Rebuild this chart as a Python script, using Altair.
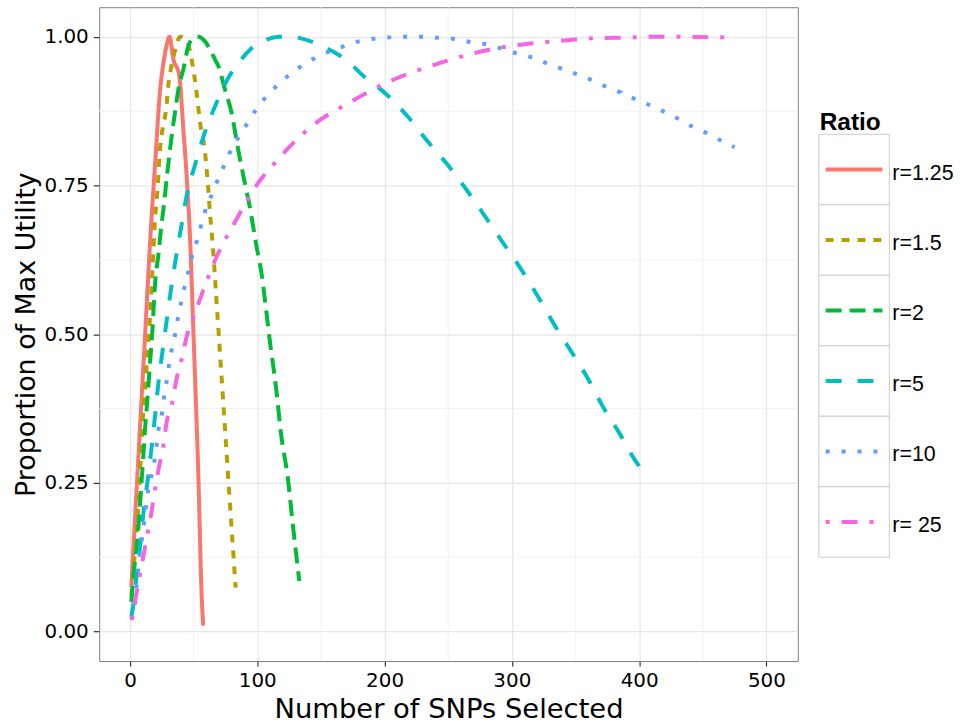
import altair as alt
import pandas as pd

# Series names, colours and line dash patterns
ratios = ["r=1.25", "r=1.5", "r=2", "r=5", "r=10", "r= 25"]
colors = ["#F8766D", "#B79F00", "#00BA38", "#00BFC4", "#619CFF", "#F564E3"]
dashes = [[1, 0], [8, 8], [16, 8], [16, 16], [4, 12], [4, 12, 16, 12]]

# Number of SNPs selected vs proportion of the maximum utility, per ratio
snps_r125 = [1, 4.2, 8.1, 12, 16.7, 19.8, 23.7, 26.3, 28.7, 31, 34.1, 38.5, 41.9, 44.5,
             47.1, 49.7, 52.3, 53.6, 56.3, 57.5]
util_r125 = [0.075, 0.2, 0.353, 0.505, 0.688, 0.789, 0.912, 0.956, 0.985, 1.0, 0.962, 0.937,
             0.845, 0.765, 0.665, 0.51, 0.353, 0.27, 0.06, 0.01]

snps_r15 = [1, 3.5, 6.8, 9.9, 12.5, 15, 17.5, 19.5, 21.5, 23.7, 26, 28.4, 30.2, 32.3, 34.9,
            37, 39.3, 42.5, 45.8, 48.4, 52.3, 55, 58.9, 61.5, 62.8, 65.4, 68, 70.6, 73.2,
            75.8, 78.4, 81, 83]
util_r15 = [0.06, 0.124, 0.22, 0.353, 0.43, 0.504, 0.6, 0.688, 0.74, 0.814, 0.85, 0.878,
            0.92, 0.948, 0.973, 0.99, 1.0, 0.997, 0.987, 0.962, 0.906, 0.856, 0.806, 0.744,
            0.705, 0.638, 0.554, 0.471, 0.387, 0.303, 0.219, 0.136, 0.074]

snps_r2 = [1, 4.2, 5.5, 8.1, 10.7, 12.2, 13.3, 15.5, 17.5, 19.8, 22.4, 24.5, 26.3, 29.5,
           32.8, 35.5, 38, 41.9, 45.8, 49.5, 53.6, 58.6, 63, 66.7, 69.3, 74.5, 79.7, 84.9,
           90.1, 94, 99.2, 103.1, 107, 109.6, 114.8, 118.75, 124, 127.9, 133]
util_r2 = [0.05, 0.124, 0.147, 0.222, 0.303, 0.353, 0.381, 0.445, 0.504, 0.588, 0.635, 0.68,
           0.711, 0.775, 0.834, 0.875, 0.912, 0.945, 0.984, 0.997, 1.0, 0.993, 0.978, 0.962,
           0.951, 0.912, 0.873, 0.811, 0.755, 0.715, 0.65, 0.605, 0.54, 0.493, 0.409, 0.331,
           0.258, 0.18, 0.085]

snps_r5 = [1, 2.3, 4.7, 8.1, 10.7, 14.1, 17.2, 19.8, 22.4, 25.5, 28.9, 32.3, 36.2, 40.6,
           44.5, 51, 58.8, 68, 78.4, 86, 95.3, 105, 117.4, 122, 130, 140.9, 152, 163.5, 173,
           183.8, 192, 202, 217.7, 234.6, 250.2, 264.6, 280.2, 294.5, 307.6, 320.6, 333.6,
           346.6, 359.6, 371.3, 384.4, 397.4, 400.8]
util_r5 = [0.025, 0.04, 0.085, 0.147, 0.203, 0.258, 0.315, 0.365, 0.42, 0.471, 0.524, 0.577,
           0.63, 0.685, 0.733, 0.784, 0.839, 0.889, 0.935, 0.958, 0.98, 0.993, 1.0, 1.0, 0.999,
           0.993, 0.983, 0.97, 0.955, 0.933, 0.92, 0.902, 0.867, 0.822, 0.783, 0.742, 0.694,
           0.649, 0.608, 0.563, 0.515, 0.471, 0.426, 0.379, 0.334, 0.286, 0.276]

snps_r10 = [1, 2.9, 5.5, 7.3, 9.9, 14.6, 17.7, 19.8, 22.4, 25, 27.1, 29.2, 31, 33.3, 35.9,
            38, 40.6, 43.2, 46.3, 49.2, 53.1, 56.25, 60.2, 64.6, 69.3, 74.5, 79.7, 86.2,
            92.7, 99.2, 107, 116.1, 125.2, 135.7, 146, 157.8, 169.5, 181.25, 193, 206, 219,
            230.7, 243.2, 255.5, 267.7, 280.2, 292, 303.6, 315.9, 327.6, 339.3, 351, 362.8,
            373.9, 385.7, 396.9, 408.3, 419.5, 430.7, 441.7, 453, 463.8, 475]
util_r10 = [0.02, 0.032, 0.083, 0.124, 0.164, 0.242, 0.27, 0.295, 0.34, 0.365, 0.401, 0.426,
            0.454, 0.479, 0.505, 0.532, 0.557, 0.583, 0.609, 0.635, 0.66, 0.686, 0.714, 0.736,
            0.761, 0.786, 0.811, 0.834, 0.856, 0.878, 0.899, 0.919, 0.936, 0.952, 0.965, 0.976,
            0.985, 0.993, 0.997, 0.999, 1.0, 1.0, 0.998, 0.996, 0.991, 0.987, 0.98, 0.972,
            0.965, 0.955, 0.946, 0.937, 0.927, 0.916, 0.906, 0.895, 0.885, 0.874, 0.862,
            0.849, 0.838, 0.826, 0.814]

snps_r25 = [1, 5.5, 9.9, 14.1, 17.2, 19.8, 22.9, 26.3, 28.6, 32.8, 36.7, 40.6, 45, 49.7,
            55.7, 61.5, 68, 75.8, 81.8, 92.7, 101, 113, 121.4, 137, 150, 165.6, 183.8, 194.3,
            207.3, 226.8, 243.75, 259.4, 277.6, 292, 308.9, 327.1, 344, 361, 379.1, 396, 413,
            428.6, 446.9, 463.8, 475.5]
util_r25 = [0.02, 0.069, 0.12, 0.169, 0.205, 0.242, 0.278, 0.314, 0.35, 0.381, 0.426, 0.458,
            0.5, 0.527, 0.563, 0.596, 0.63, 0.663, 0.686, 0.727, 0.755, 0.786, 0.806, 0.839,
            0.861, 0.881, 0.903, 0.915, 0.928, 0.944, 0.956, 0.966, 0.976, 0.982, 0.987,
            0.991, 0.994, 0.997, 0.998, 0.999, 1.0, 1.0, 0.9995, 0.999, 0.999]

# Axis breaks
x_ticks = [0, 100, 200, 300, 400, 500]
x_minor = [50, 150, 250, 350, 450]
y_ticks = [0.0, 0.25, 0.5, 0.75, 1.0]
y_minor = [0.125, 0.375, 0.625, 0.875]

x_title = "Number of SNPs Selected"
y_title = "Proportion of Max Utility"
legend_title = "Ratio"

series = [
    (ratios[0], snps_r125, util_r125),
    (ratios[1], snps_r15, util_r15),
    (ratios[2], snps_r2, util_r2),
    (ratios[3], snps_r5, util_r5),
    (ratios[4], snps_r10, util_r10),
    (ratios[5], snps_r25, util_r25),
]
rows = []
for name, xs, ys in series:
    for xv, yv in zip(xs, ys):
        rows.append({"Ratio": name, "snps": xv, "utility": yv})
df = pd.DataFrame(rows)

TEXT_FONT = "DejaVu Sans"
LEGEND_FONT = "Liberation Sans"

x_scale = alt.Scale(domain=[-24.2, 524.7], nice=False, zero=False)
y_scale = alt.Scale(domain=[-0.0495, 1.0495], nice=False, zero=False)
color_scale = alt.Scale(domain=ratios, range=colors)
dash_scale = alt.Scale(domain=ratios, range=dashes)

axis_common = dict(
    grid=True, gridColor="#e6e6e6", gridWidth=1.2, domain=False,
    tickColor="#333333", tickWidth=1.2,
    labelFont=TEXT_FONT, labelFontSize=20, labelColor="#000000", labelFlush=False,
    titleFont=TEXT_FONT, titleFontWeight="normal", titleColor="#000000",
)
x_axis = alt.Axis(values=x_ticks, title=x_title, tickSize=5, labelPadding=4.5,
                  titleFontSize=27.5, titlePadding=5, **axis_common)
y_axis = alt.Axis(values=y_ticks, format=".2f", title=y_title, tickSize=6,
                  labelPadding=5, titleFontSize=27, titlePadding=4, **axis_common)

# Minor grid lines between the labelled breaks
vgrid = alt.Chart(pd.DataFrame({"snps": x_minor})).mark_rule(
    color="#f3f3f3", strokeWidth=1.2
).encode(x=alt.X("snps:Q", scale=x_scale, axis=x_axis))

hgrid = alt.Chart(pd.DataFrame({"utility": y_minor})).mark_rule(
    color="#f3f3f3", strokeWidth=1.2
).encode(y=alt.Y("utility:Q", scale=y_scale, axis=y_axis))

lines = alt.Chart(df).mark_line(
    strokeWidth=4, strokeCap="butt", interpolate="monotone", clip=True
).encode(
    x=alt.X("snps:Q", scale=x_scale, axis=x_axis),
    y=alt.Y("utility:Q", scale=y_scale, axis=y_axis),
    color=alt.Color("Ratio:N", scale=color_scale, legend=None),
    strokeDash=alt.StrokeDash("Ratio:N", scale=dash_scale, legend=None),
)

main = alt.layer(vgrid, hgrid, lines).properties(
    width=702, height=657,
    view=alt.ViewBackground(stroke="#7f7f7f", strokeWidth=1),
)

# Boxed legend keys
legend_df = pd.DataFrame({"Ratio": ratios})
key_scale = alt.Scale(domain=ratios, range=[127.7, 552.7], paddingInner=0, paddingOuter=0)

boxes = alt.Chart(legend_df).mark_rect(fill="white", stroke="#cccccc", strokeWidth=1).encode(
    y=alt.Y("Ratio:N", scale=key_scale, axis=None),
    x=alt.value(0), x2=alt.value(71),
)
keys = alt.Chart(legend_df).mark_rule(strokeWidth=4, strokeCap="butt").encode(
    y=alt.Y("Ratio:N", scale=key_scale, axis=None, bandPosition=0.5),
    x=alt.value(7), x2=alt.value(64),
    color=alt.Color("Ratio:N", scale=color_scale, legend=None),
    strokeDash=alt.StrokeDash("Ratio:N", scale=dash_scale, legend=None),
)
labels = alt.Chart(legend_df).mark_text(
    align="left", baseline="alphabetic", dy=10, font=LEGEND_FONT, fontSize=21.5, color="#000000"
).encode(
    y=alt.Y("Ratio:N", scale=key_scale, axis=None, bandPosition=0.5),
    x=alt.value(74),
    text="Ratio:N",
)
heading = alt.Chart(pd.DataFrame({"label": [legend_title]})).mark_text(
    align="left", baseline="alphabetic", font=LEGEND_FONT, fontSize=24.5,
    fontWeight="bold", color="#000000"
).encode(text="label:N", x=alt.value(1), y=alt.value(123.7))

legend_panel = alt.layer(boxes, keys, labels, heading).properties(width=150, height=657)

chart = alt.hconcat(main, legend_panel, spacing=18).properties(
    padding={"left": 10.7, "top": 3.5, "right": 0, "bottom": 0},
    background="white",
).configure_view(strokeWidth=0)

chart.save("out.html", embed_options={"renderer": "svg", "actions": False})
